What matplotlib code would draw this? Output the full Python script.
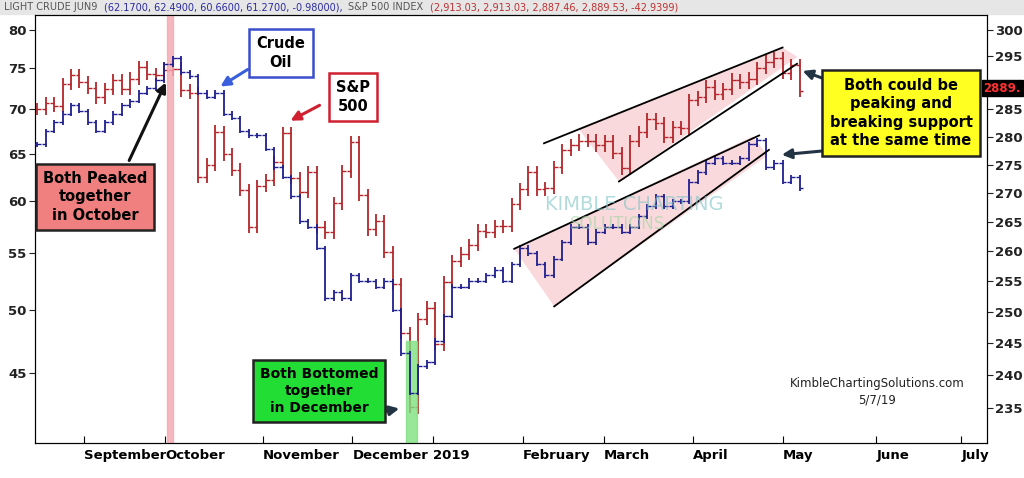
import numpy as np
import matplotlib
matplotlib.use("Agg")
import matplotlib.pyplot as plt
from matplotlib.patches import Polygon, Rectangle
from matplotlib.ticker import FixedLocator, NullFormatter, NullLocator

# closes every ~2 trading days, Aug 17 2018 .. May 7 2019
spx_close = [285.0, 286.2, 285.6, 289.7, 291.4, 290.1, 288.9, 287.2, 288.8, 290.4,
             288.8, 290.7, 292.9, 291.6, 291.4, 292.4, 292.6, 288.5, 288.0, 272.8,
             275.0, 280.9, 276.8, 274.1, 270.5, 264.1, 271.2, 272.3, 275.5, 280.6,
             272.6, 270.2, 273.6, 264.1, 263.2, 268.2, 273.8, 279.0, 269.6, 263.7,
             265.2, 259.9, 254.6, 246.7, 235.1, 248.9, 250.7, 244.8, 254.9, 258.4,
             259.6, 261.1, 263.5, 263.3, 264.2, 264.3, 268.1, 270.6, 273.7, 270.6,
             270.9, 274.5, 277.6, 278.5, 279.3, 279.3, 278.4, 279.2, 277.1, 274.3,
             279.2, 280.8, 283.2, 282.4, 280.0, 281.8, 281.5, 286.7, 287.3, 289.2,
             287.8, 288.8, 290.5, 290.0, 290.7, 292.7, 293.9, 294.6, 291.7, 293.2, 288.4]
crude_close = [66.0, 67.5, 68.5, 69.5, 70.5, 69.8, 68.5, 67.5, 68.5, 69.5,
               70.5, 71.0, 72.0, 72.5, 73.5, 75.5, 76.3, 74.5, 74.0, 72.0,
               71.5, 72.0, 69.5, 69.0, 67.5, 67.0, 67.0, 65.5, 63.5, 62.5,
               60.5, 58.0, 57.5, 55.5, 51.0, 51.5, 51.0, 53.0, 52.5, 52.5,
               52.0, 52.5, 50.0, 46.5, 43.5, 45.5, 45.8, 47.5, 49.5, 52.0,
               52.0, 52.5, 52.5, 53.0, 53.5, 52.5, 54.0, 55.5, 55.0, 54.0,
               53.0, 54.5, 56.0, 57.5, 57.5, 56.0, 57.0, 57.5, 57.5, 57.0,
               57.5, 58.5, 59.5, 60.5, 59.5, 60.0, 60.0, 62.0, 63.0, 64.0,
               64.5, 64.0, 64.0, 64.5, 66.0, 66.5, 63.5, 64.0, 62.0, 62.5, 61.3]
last_day = 179  # trading-day index of May 7 2019 (Aug 17 2018 = 0)

months = ['September', 'October', 'November', 'December', '2019', 'February',
          'March', 'April', 'May', 'June', 'July']
month_start = [11, 30, 53, 74, 93, 114, 133, 154, 175, 197, 217]

# wedge trendlines (trading-day index, price)
spx_upper = [(119, 278.8), (175, 296.6)]
spx_lower = [(136.6, 272.0), (178.4, 293.5)]
crude_upper = [(112, 55.4), (169.5, 67.0)]
crude_lower = [(121.4, 50.3), (171.8, 65.4)]
spx_wedge = [(127, 281.5), (175, 296.6), (178.5, 294.8), (136.6, 272.0)]
crude_wedge = [(112, 55.4), (168, 66.9), (171.5, 64.8), (121.4, 50.3)]

W, H = 1024, 478
fig = plt.figure(figsize=(W / 100, H / 100), dpi=100)
fig.patch.set_facecolor('white')

def fp(x, y):
    return (x / W, 1 - y / H)

ax = fig.add_axes([35 / W, 1 - 443 / H, 952 / W, 428 / H])
ax2 = ax.twinx()
for a in (ax, ax2):
    a.set_yscale('log')
    a.yaxis.set_minor_locator(NullLocator())
    a.yaxis.set_minor_formatter(NullFormatter())
ax.set_ylim(40.0, 82.0)
ax2.set_ylim(229.7, 302.9)
ax.set_xlim(-0.5, 223)
ax.set_zorder(2)
ax2.set_zorder(1)
ax.patch.set_visible(False)

ax.yaxis.set_major_locator(FixedLocator([45, 50, 55, 60, 65, 70, 75, 80]))
ax.set_yticklabels(['45', '50', '55', '60', '65', '70', '75', '80'])
ax2.yaxis.set_major_locator(FixedLocator(list(range(235, 301, 5))))
ax2.set_yticklabels(['' if v == 290 else str(v) for v in range(235, 301, 5)])
for a in (ax, ax2):
    a.tick_params(axis='y', labelsize=9.5, colors='#222222', length=4, pad=2)
    for lab in a.get_yticklabels():
        lab.set_fontweight('bold')

ax.set_xticks(month_start)
ax.set_xticklabels(months, ha='left', fontsize=9.5, fontweight='bold')
ax.tick_params(axis='x', length=5, direction='in', pad=4)

def draw_bars(a, closes, color):
    closes = np.array(closes)
    x = np.linspace(0, last_day, len(closes))
    prev = np.concatenate([[closes[0]], closes[:-1]])
    pad = closes * 0.004
    lo = np.minimum(prev, closes) - pad
    hi = np.maximum(prev, closes) + pad
    a.vlines(x, lo, hi, color=color, lw=1.3, zorder=3)
    a.hlines(closes, x, x + 0.9, color=color, lw=1.0, zorder=3)
    a.hlines(prev, x - 0.9, x, color=color, lw=1.0, zorder=3)

# highlight bands
ax.axvspan(30.6, 31.8, color='#f4a6b0', alpha=0.8, zorder=1)
ax.add_patch(Rectangle((86.7, 40.0), 2.4, 7.5, color='#7fe07f', alpha=0.8, zorder=1))

ax2.add_patch(Polygon(spx_wedge, closed=True, color='#f9c9cf', alpha=0.7, zorder=1, lw=0))
ax.add_patch(Polygon(crude_wedge, closed=True, color='#f9c9cf', alpha=0.7, zorder=1, lw=0))

draw_bars(ax2, spx_close, '#b3262a')
draw_bars(ax, crude_close, '#1f1f8f')

for (p, q), a in [(spx_upper, ax2), (spx_lower, ax2), (crude_upper, ax), (crude_lower, ax)]:
    a.plot([p[0], q[0]], [p[1], q[1]], color='black', lw=1.3, zorder=4)

# watermark
fig.text(*fp(545, 205), 'KIMBLE CHARTING', fontsize=14, color='#7fc4c4', alpha=0.6, va='center')
fig.text(*fp(570, 224), 'SOLUTIONS', fontsize=12, color='#9fd49f', alpha=0.6, va='center')

# header, pieces chained left to right
fig.patches.append(Rectangle((0, 1 - 14 / H), 1, 14 / H, transform=fig.transFigure,
                             color='#e6e6e6', zorder=0))
header = [('LIGHT CRUDE JUN9 ', '#555555'),
          ('(62.1700, 62.4900, 60.6600, 61.2700, -0.98000), ', '#2a2aa0'),
          ('S&P 500 INDEX ', '#555555'),
          ('(2,913.03, 2,913.03, 2,887.46, 2,889.53, -42.9399)', '#c03030')]
renderer = fig.canvas.get_renderer()
hx = 4
for ht, hc in header:
    t = fig.text(*fp(hx, 7), ht, fontsize=7, color=hc, va='center')
    hx = t.get_window_extent(renderer).x1 + 3

fig.text(*fp(1021, 88), '2889.', fontsize=8.5, fontweight='bold', color='#ff3030', va='center',
         ha='right', bbox=dict(boxstyle='square,pad=0.15', fc='black', ec='black'))
fig.text(*fp(877, 392), 'KimbleChartingSolutions.com\n5/7/19', fontsize=8.5, ha='center',
         va='center', color='#222222', linespacing=1.3)

def box(x, y, text, fc, ec, fs=10.5):
    fig.text(*fp(x, y), text, ha='center', va='center', fontsize=fs, fontweight='bold',
             linespacing=1.3, color='black', zorder=10,
             bbox=dict(boxstyle='square,pad=0.5', fc=fc, ec=ec, lw=1.8))

def arrow(x0, y0, x1, y1, color):
    fig.add_artist(plt.Annotation('', xy=fp(x1, y1), xytext=fp(x0, y0), xycoords='figure fraction',
                                  arrowprops=dict(arrowstyle='-|>', color=color, lw=2.2,
                                                  mutation_scale=14)))

box(281, 53, 'Crude\nOil', 'white', '#3a4fcc')
arrow(250, 68, 218, 88, '#3a5fdd')
box(353, 97, 'S&P\n500', 'white', '#d02030')
arrow(322, 104, 288, 122, '#d02030')
box(95, 197, 'Both Peaked\ntogether\nin October', '#f08080', '#222222')
arrow(128, 163, 167, 80, '#111111')
box(319, 391, 'Both Bottomed\ntogether\nin December', '#22dd33', '#222222', fs=10)
arrow(372, 414, 402, 408, '#223344')
box(901, 113, 'Both could be\npeaking and\nbreaking support\nat the same time', '#ffff22', '#222222')
arrow(833, 82, 800, 70, '#223344')
arrow(833, 150, 779, 155, '#223344')

fig.savefig('out.png', dpi=100)
